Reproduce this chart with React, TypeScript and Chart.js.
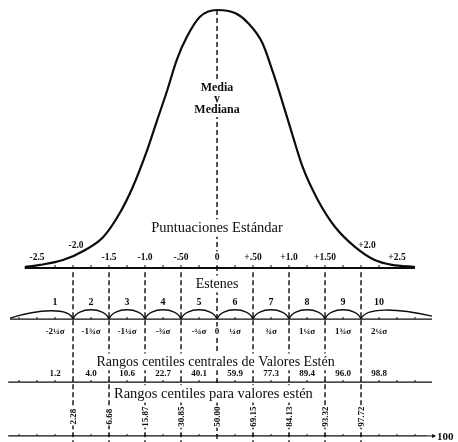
import { useEffect, useRef } from "react";
import { Chart, registerables } from "chart.js";

Chart.register(...registerables);

// Normal curve: standard score (z) and height (% of the peak)
const CURVE_Z = [-2.67, -2.46, -2.14, -1.83, -1.58, -1.35, -1.17, -0.97, -0.83, -0.69, -0.56, -0.42, -0.24, 0, 0.25, 0.43, 0.63, 0.78, 0.9, 1.04, 1.19, 1.4, 1.64, 1.92, 2.19, 2.43, 2.75];
const CURVE_H = [0.4, 1.2, 3.1, 7.0, 12.0, 21.3, 31.4, 45.7, 57.4, 69.0, 80.6, 89.5, 97.3, 100, 98.8, 95.0, 87.2, 75.6, 65.1, 52.3, 39.1, 26.4, 15.9, 8.1, 3.1, 1.2, 0.4];

// Standard score axis
const Z_VALUES = [-2.5, -2, -1.5, -1, -0.5, 0, 0.5, 1, 1.5, 2, 2.5];
const Z_LABELS = ["-2.5", "-2.0", "-1.5", "-1.0", "-.50", "0", "+.50", "+1.0", "+1.50", "+2.0", "+2.5"];

// Sten boundaries and sten midpoints
const STEN_BOUNDS = [-2, -1.5, -1, -0.5, 0, 0.5, 1, 1.5, 2];
const STEN_MIDS = [-2.25, -1.75, -1.25, -0.75, -0.25, 0.25, 0.75, 1.25, 1.75, 2.25];
const STEN_LABELS = ["1", "2", "3", "4", "5", "6", "7", "8", "9", "10"];
const SIGMA_LABELS = ["-2¼σ", "-1¾σ", "-1¼σ", "-¾σ", "-¼σ", "¼σ", "¾σ", "1¼σ", "1¾σ", "2¼σ"];

// Centile ranks
const CENTRAL_CENTILES = ["1.2", "4.0", "10.6", "22.7", "40.1", "59.9", "77.3", "89.4", "96.0", "98.8"];
const BOUND_CENTILES = ["2.28", "6.68", "15.87", "30.85", "50.00", "69.15", "84.13", "93.32", "97.72"];

// Layout (chart units): x in standard scores, y in % of curve peak
const X_MIN = -3.014;
const X_MAX = 3.347;
const Y_MIN = -67.44;
const Y_MAX = 103.88;
const ROW = {
  zLabel: 4.2,
  zRaised: 8.6,
  zTitle: 15.5,
  media: 69.8,
  yWord: 65.6,
  mediana: 61.3,
  dashTop: -1.6,
  estenes: -6.2,
  stenNum: -13.2,
  stenLine: -19.8,
  sigma: -24.8,
  title1: -36.4,
  central: -41.1,
  centralLine: -44.2,
  title2: -48.8,
  bound: -57.6,
  bottomLine: -65.1,
};
const LINE_EXTENT = {
  sten: [-2.875, 2.986],
  central: [-2.9, 2.986],
  bottom: [-2.9, 2.917],
};

const INK = "#0d0d0d";
const SERIF = "'Liberation Serif', 'DejaVu Serif', serif";

const diagramPlugin = {
  id: "diagram",
  afterDatasetsDraw(chart: any) {
    const ctx: CanvasRenderingContext2D = chart.ctx;
    const xs = chart.scales.x;
    const ys = chart.scales.y;
    const X = (z: number) => xs.getPixelForValue(z);
    const Y = (v: number) => ys.getPixelForValue(v);

    ctx.save();
    ctx.strokeStyle = INK;
    ctx.fillStyle = INK;
    ctx.textAlign = "center";
    ctx.textBaseline = "middle";

    const text = (t: string, x: number, y: number, font: string, bg = true, pad = 2) => {
      ctx.font = font;
      const w = ctx.measureText(t).width;
      const size = parseFloat(font.replace(/^[^0-9]*/, ""));
      if (bg) {
        ctx.fillStyle = "#fff";
        ctx.fillRect(x - w / 2 - pad, y - size * 0.6, w + pad * 2, size * 1.2);
      }
      ctx.fillStyle = INK;
      ctx.fillText(t, x, y);
    };

    // ticks on the standard-score baseline
    ctx.lineWidth = 1;
    const base = Y(0);
    for (let z = -2.25; z <= 2.26; z += 0.25) {
      ctx.beginPath();
      ctx.moveTo(X(z), base - 3);
      ctx.lineTo(X(z), base + 1);
      ctx.stroke();
    }

    // sten arcs
    const ay = Y(ROW.stenLine);
    ctx.lineWidth = 1.4;
    for (let i = 0; i < STEN_BOUNDS.length - 1; i++) {
      const x0 = X(STEN_BOUNDS[i]);
      const x1 = X(STEN_BOUNDS[i + 1]);
      const w = x1 - x0;
      ctx.beginPath();
      ctx.moveTo(x0, ay);
      ctx.bezierCurveTo(x0 + w * 0.12, ay - 12.5, x1 - w * 0.12, ay - 12.5, x1, ay);
      ctx.stroke();
    }
    {
      const xl = X(LINE_EXTENT.sten[0]);
      const xb = X(STEN_BOUNDS[0]);
      ctx.beginPath();
      ctx.moveTo(xl, ay - 1);
      ctx.bezierCurveTo(xl + (xb - xl) * 0.45, ay - 10, xb - 4, ay - 12, xb, ay);
      ctx.stroke();
      const xr = X(LINE_EXTENT.sten[1]);
      const xa = X(STEN_BOUNDS[STEN_BOUNDS.length - 1]);
      ctx.beginPath();
      ctx.moveTo(xa, ay);
      ctx.bezierCurveTo(xa + 4, ay - 12, xa + (xr - xa) * 0.5, ay - 11, xr, ay - 3);
      ctx.stroke();
    }

    // small ticks on the lower lines
    ctx.lineWidth = 1;
    const tickRows = [ROW.stenLine, ROW.centralLine, ROW.bottomLine];
    tickRows.forEach((r) => {
      const py = Y(r);
      for (let z = -2.75; z <= 2.76; z += 0.25) {
        ctx.beginPath();
        ctx.moveTo(X(z), py - 2);
        ctx.lineTo(X(z), py);
        ctx.stroke();
      }
    });

    // arrow at the end of the bottom line
    {
      const py = Y(ROW.bottomLine);
      const xe = X(LINE_EXTENT.bottom[1]);
      ctx.lineWidth = 1;
      ctx.beginPath();
      ctx.moveTo(xe, py);
      ctx.lineTo(xe + 8, py);
      ctx.stroke();
      ctx.beginPath();
      ctx.moveTo(xe + 9, py);
      ctx.lineTo(xe + 5, py - 2);
      ctx.lineTo(xe + 5, py + 2);
      ctx.closePath();
      ctx.fill();
      ctx.textAlign = "left";
      ctx.font = `bold 11px ${SERIF}`;
      ctx.fillText("100", xe + 10, py + 1);
      ctx.textAlign = "center";
    }

    // Media y Mediana
    text("Media", X(0), Y(ROW.media), `bold 12px ${SERIF}`);
    text("y", X(0), Y(ROW.yWord), `bold 12px ${SERIF}`);
    text("Mediana", X(0), Y(ROW.mediana), `bold 12px ${SERIF}`);

    // standard scores
    text("Puntuaciones Estándar", X(0), Y(ROW.zTitle), `14.5px ${SERIF}`);
    Z_VALUES.forEach((z, i) => {
      const raised = Math.abs(z) === 2;
      const dx = z === -2 ? 3 : z === 2 ? 6 : 0;
      text(Z_LABELS[i], X(z) + dx, Y(raised ? ROW.zRaised : ROW.zLabel), `bold 9.5px ${SERIF}`, z === 0, 1);
    });

    // stens
    text("Estenes", X(0), Y(ROW.estenes), `14px ${SERIF}`, true, 3);
    STEN_MIDS.forEach((z, i) => {
      text(STEN_LABELS[i], X(z), Y(ROW.stenNum), `bold 10px ${SERIF}`, false);
      text(SIGMA_LABELS[i], X(z), Y(ROW.sigma), `bold 9px ${SERIF}`, true, 1);
    });
    text("0", X(0), Y(ROW.sigma), `bold 9px ${SERIF}`, true, 1);

    // central centile ranks
    text("Rangos centiles centrales de Valores Estén", X(-0.02), Y(ROW.title1), `14px ${SERIF}`, true, 2);
    STEN_MIDS.forEach((z, i) => {
      text(CENTRAL_CENTILES[i], X(z), Y(ROW.central), `bold 9px ${SERIF}`, true, 1);
    });

    // centile ranks at sten boundaries
    text("Rangos centiles para valores estén", X(-0.05), Y(ROW.title2), `14.5px ${SERIF}`, true, 2);
    STEN_BOUNDS.forEach((z, i) => {
      const px = X(z);
      const py = Y(ROW.bound);
      ctx.save();
      ctx.translate(px, py);
      ctx.rotate(-Math.PI / 2);
      ctx.font = `bold 9px ${SERIF}`;
      const w = ctx.measureText(BOUND_CENTILES[i]).width;
      ctx.fillStyle = "#fff";
      ctx.fillRect(-w / 2 - 1, -4.5, w + 2, 9);
      ctx.fillStyle = INK;
      ctx.fillText(BOUND_CENTILES[i], 0, 0.5);
      ctx.restore();
    });

    ctx.restore();
  },
};

export default function App() {
  const canvasRef = useRef<HTMLCanvasElement | null>(null);

  useEffect(() => {
    document.body.style.margin = "0";
    const canvas = canvasRef.current;
    if (!canvas) return;

    const curve = CURVE_Z.map((z, i) => ({ x: z, y: CURVE_H[i] }));
    const hLine = (x0: number, x1: number, y: number) => [
      { x: x0, y },
      { x: x1, y },
    ];
    const dashed = STEN_BOUNDS.map((b) => ({
      data: [
        { x: b, y: b === 0 ? 100 : ROW.dashTop },
        { x: b, y: Y_MIN - 2 },
      ],
      borderColor: INK,
      borderWidth: 1.4,
      borderDash: [5, 3],
      pointRadius: 0,
      fill: false,
    }));

    const chart = new Chart(canvas, {
      type: "line",
      data: {
        datasets: [
          {
            data: curve,
            borderColor: INK,
            borderWidth: 2.2,
            pointRadius: 0,
            cubicInterpolationMode: "monotone",
            fill: false,
          },
          {
            data: hLine(CURVE_Z[0], CURVE_Z[CURVE_Z.length - 1], 0),
            borderColor: INK,
            borderWidth: 2.2,
            pointRadius: 0,
          },
          {
            data: hLine(LINE_EXTENT.sten[0], LINE_EXTENT.sten[1], ROW.stenLine),
            borderColor: INK,
            borderWidth: 1.3,
            pointRadius: 0,
          },
          {
            data: hLine(LINE_EXTENT.central[0], LINE_EXTENT.central[1], ROW.centralLine),
            borderColor: INK,
            borderWidth: 1.3,
            pointRadius: 0,
          },
          {
            data: hLine(LINE_EXTENT.bottom[0], LINE_EXTENT.bottom[1], ROW.bottomLine),
            borderColor: INK,
            borderWidth: 1.3,
            pointRadius: 0,
          },
          ...dashed,
        ] as any,
      },
      options: {
        responsive: false,
        maintainAspectRatio: false,
        animation: false,
        layout: { padding: 0 },
        plugins: {
          legend: { display: false },
          tooltip: { enabled: false },
        },
        scales: {
          x: { type: "linear", min: X_MIN, max: X_MAX, display: false },
          y: { type: "linear", min: Y_MIN, max: Y_MAX, display: false },
        },
      },
      plugins: [diagramPlugin],
    });

    return () => chart.destroy();
  }, []);

  return (
    <div style={{ width: 458, height: 442, background: "#fff" }}>
      <canvas ref={canvasRef} width={458} height={442} style={{ display: "block" }} />
    </div>
  );
}
